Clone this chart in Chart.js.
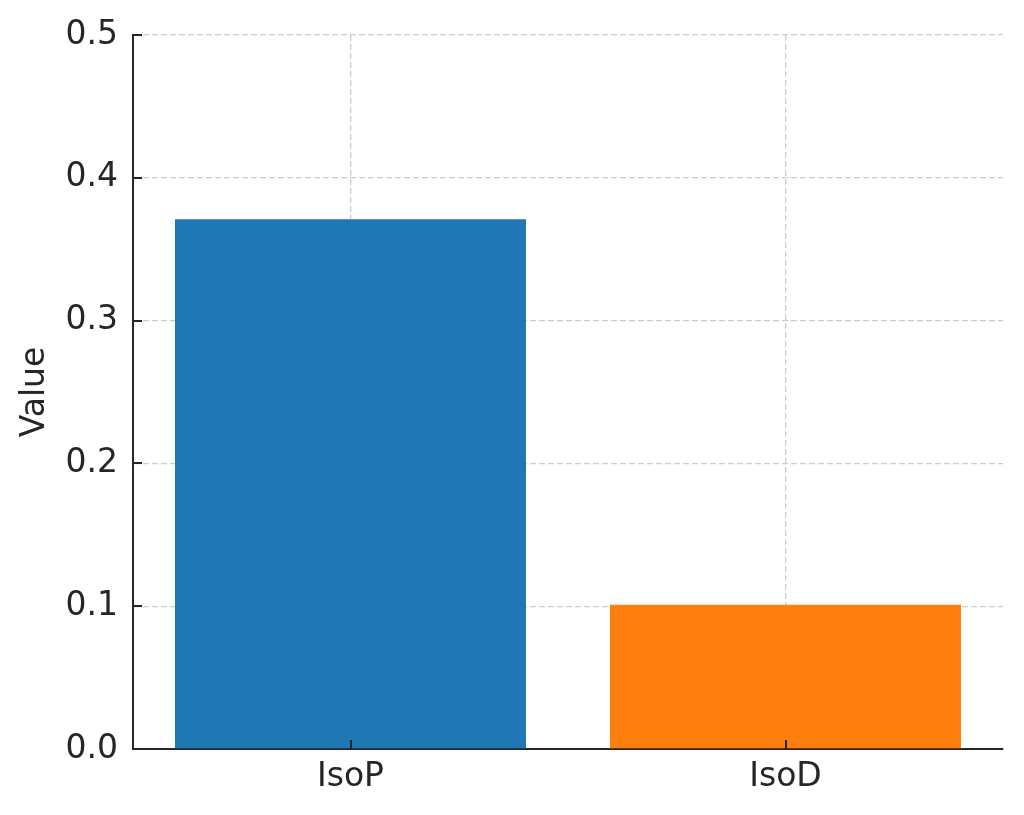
<!DOCTYPE html>
<html>
<head>
<meta charset="utf-8">
<script src="https://cdn.jsdelivr.net/npm/chart.js@4"></script>
<style>
  html, body { margin: 0; padding: 0; background: #fff; }
  #wrap { width: 1024px; height: 815px; position: relative; }
</style>
</head>
<body>
<div id="wrap"><canvas id="chart"></canvas></div>
<script>
// data
const categories = ["IsoP", "IsoD"];
const values = [0.371, 0.101];
const barColors = ["#1f77b4", "#ff7f0e"];
const yTicks = [0, 0.1, 0.2, 0.3, 0.4, 0.5];

const textColor = "#262626";
const fontFamily = "'DejaVu Sans', sans-serif";

// matplotlib style inward tick marks
const innerTicks = {
  id: "innerTicks",
  afterDraw(chart) {
    const ctx = chart.ctx;
    const x = chart.scales.x;
    const y = chart.scales.y;
    const area = chart.chartArea;
    ctx.save();
    ctx.strokeStyle = textColor;
    ctx.lineWidth = 2;
    ctx.beginPath();
    y.ticks.forEach((t, i) => {
      const py = Math.round(y.getPixelForTick(i));
      ctx.moveTo(area.left, py);
      ctx.lineTo(area.left + 9, py);
    });
    x.ticks.forEach((t, i) => {
      const px = Math.round(x.getPixelForTick(i));
      ctx.moveTo(px, area.bottom);
      ctx.lineTo(px, area.bottom - 9);
    });
    ctx.stroke();
    ctx.restore();
  },
};

new Chart(document.getElementById("chart"), {
  type: "bar",
  data: {
    labels: categories,
    datasets: [
      {
        label: "Value",
        data: values,
        backgroundColor: barColors,
        barPercentage: 0.807,
        categoryPercentage: 1.0,
      },
    ],
  },
  options: {
    responsive: true,
    maintainAspectRatio: false,
    animation: false,
    layout: { padding: { top: 35, right: 21, left: 0, bottom: 0 } },
    plugins: {
      legend: { display: false },
      tooltip: { enabled: false },
    },
    scales: {
      x: {
        z: 1,
        offset: true,
        grid: {
          offset: false,
          color: "#cccccc",
          lineWidth: 1.3,
          drawTicks: false,
        },
        border: { display: true, color: textColor, width: 2, dash: [6, 3] },
        ticks: {
          color: textColor,
          padding: 9,
          font: { family: fontFamily, size: 33 },
        },
        afterFit(scale) {
          scale.height = 66;
        },
      },
      y: {
        z: 1,
        min: 0,
        max: 0.5,
        afterBuildTicks(scale) {
          scale.ticks = yTicks.map((v) => ({ value: v }));
        },
        grid: {
          color: "#cccccc",
          lineWidth: 1.3,
          drawTicks: false,
        },
        border: { display: true, color: textColor, width: 2, dash: [6, 3] },
        ticks: {
          color: textColor,
          padding: 15,
          font: { family: fontFamily, size: 33 },
          callback: (v) => Number(v).toFixed(1),
        },
        title: {
          display: true,
          text: "Value",
          color: textColor,
          padding: { top: 16, bottom: 0 },
          font: { family: fontFamily, size: 33 },
        },
        afterFit(scale) {
          scale.width = 133;
        },
      },
    },
  },
  plugins: [innerTicks],
});
</script>
</body>
</html>
